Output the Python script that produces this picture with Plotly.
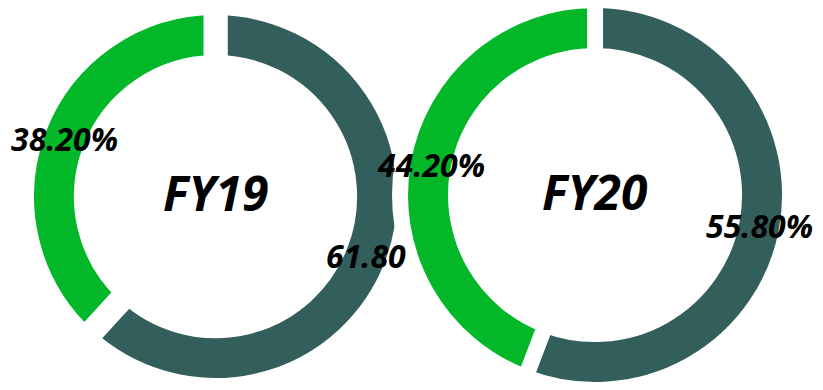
import math
import plotly.graph_objects as go

W, H = 823, 390

# Share of each year, green part first
years = ["FY19", "FY20"]
shares_fy19 = [38.2, 61.8]
shares_fy20 = [44.2, 55.8]
label_formats_fy19 = ["{:.2f}%", "{:.2f}"]
label_formats_fy20 = ["{:.2f}%", "{:.2f}%"]
segment_names = ["Part A", "Part B"]

colors = ["#02b828", "#325f5c"]

# Ring geometry per donut (paper domains, hole fraction, gap width in px)
rings = [
    dict(x=[0.0267, 0.497], y=[0.0, 0.992], hole=0.67, gap=24),
    dict(x=[0.484, 0.962], y=[0.0, 1.0], hole=0.713, gap=16),
]

series = [shares_fy19, shares_fy20]
formats = [label_formats_fy19, label_formats_fy20]

fig = go.Figure()
annotations = []
label_font = dict(family="Open Sans", size=32, color="black", weight="bold", style="italic")
title_font = dict(family="Open Sans", size=48, color="black", weight="bold", style="italic")

for name, vals, fmts, ring in zip(years, series, formats, rings):
    # draw dark part first, clockwise from 12 o'clock, so green ends up on the left
    order = [1, 0]
    fig.add_trace(go.Pie(
        labels=[segment_names[i] for i in order],
        values=[vals[i] for i in order],
        hole=ring["hole"],
        sort=False,
        direction="clockwise",
        rotation=0,
        marker=dict(colors=[colors[i] for i in order],
                    line=dict(color="white", width=ring["gap"])),
        textinfo="none",
        hoverinfo="label+value",
        domain=dict(x=ring["x"], y=ring["y"]),
        showlegend=False,
    ))

    # pixel geometry of this donut (y measured upward from the bottom)
    x0, x1 = ring["x"][0] * W, ring["x"][1] * W
    y0, y1 = ring["y"][0] * H, ring["y"][1] * H
    cx, cy = (x0 + x1) / 2, (y0 + y1) / 2
    R = min(x1 - x0, y1 - y0) / 2
    outer_vis = R - ring["gap"] / 2
    inner_vis = R * ring["hole"] + ring["gap"] / 2
    r_mid = (outer_vis + inner_vis) / 2

    annotations.append(dict(
        x=cx / W, y=cy / H, xref="paper", yref="paper",
        xanchor="center", yanchor="middle", yshift=4,
        text=name, showarrow=False, font=title_font,
    ))

    # labels sit on the ring middle, at each segment's mid angle
    total = sum(vals)
    start = 0.0
    for i in order:
        v = vals[i]
        mid = start + v / 2
        ang = 2 * math.pi * mid / total  # clockwise from 12 o'clock
        px = cx + r_mid * math.sin(ang)
        py = cy + r_mid * math.cos(ang)
        annotations.append(dict(
            x=px / W, y=py / H, xref="paper", yref="paper",
            xanchor="center", yanchor="middle",
            text=fmts[i].format(v), showarrow=False, font=label_font,
        ))
        start += v

fig.update_layout(
    width=W, height=H,
    margin=dict(l=0, r=0, t=0, b=0),
    paper_bgcolor="white",
    plot_bgcolor="white",
    annotations=annotations,
)

fig.write_html("out.html")
